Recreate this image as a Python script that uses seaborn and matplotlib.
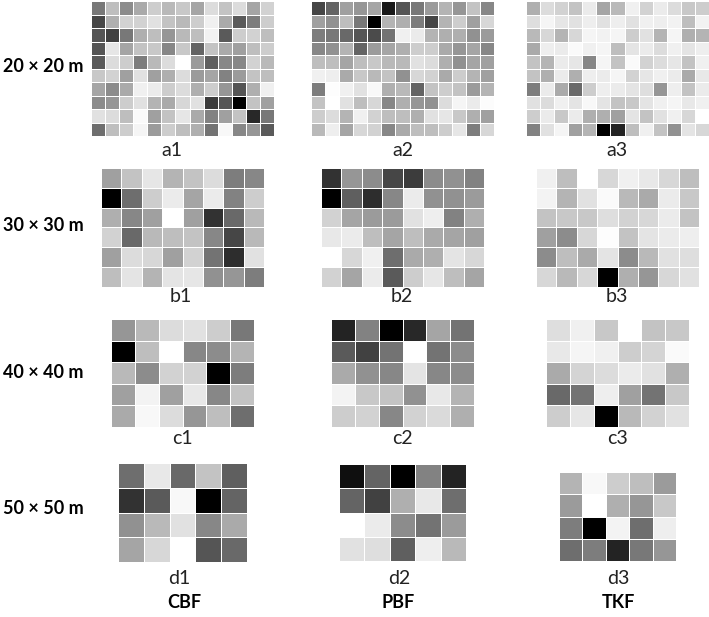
import matplotlib
matplotlib.use("Agg")
import matplotlib.pyplot as plt
import numpy as np
import seaborn as sns

# grey level of every cell, 0 black - 255 white
a1 = [[120,190,140,170,205,185,200,165,220,195,220,165,210],
      [70,175,210,210,225,195,185,205,240,170,90,125,205],
      [85,65,120,175,190,150,185,190,242,90,205,210,190],
      [85,230,165,195,200,135,200,100,195,170,160,190,205],
      [90,220,205,125,185,220,255,155,95,135,135,210,185],
      [200,210,160,225,160,175,220,155,165,130,155,195,190],
      [165,140,170,240,235,205,220,175,205,150,85,175,240],
      [140,150,205,225,180,170,215,225,60,85,0,195,160],
      [225,220,190,250,160,195,230,170,130,160,195,40,120],
      [110,190,205,245,155,205,190,175,115,248,135,150,90]]
a2 = [[70,100,160,150,165,25,85,120,155,180,150,195,135],
      [160,145,190,120,0,180,175,125,70,180,205,160,215],
      [125,120,105,85,75,115,240,235,180,175,175,145,155],
      [135,145,180,100,155,165,175,205,205,170,150,165,135],
      [190,190,165,190,200,185,185,225,220,175,145,165,160],
      [240,238,170,200,185,195,145,215,210,170,205,180,160],
      [125,253,240,225,248,175,185,100,195,205,195,155,180],
      [195,255,225,190,215,135,175,150,145,220,245,235,252],
      [205,220,180,240,210,190,190,175,225,230,200,175,160],
      [185,238,165,215,210,135,170,190,190,205,230,125,215]]
a3 = [[175,220,210,195,235,165,185,240,210,235,220,200,205],
      [222,245,230,225,238,225,238,225,240,238,242,190,242],
      [185,215,180,215,245,242,245,205,225,180,245,175,180],
      [170,238,235,250,240,245,190,228,235,220,240,228,238],
      [195,180,235,230,135,245,195,250,210,220,230,195,240],
      [195,175,235,175,238,235,245,210,230,240,235,170,232],
      [125,235,170,105,205,238,235,228,222,150,238,195,235],
      [225,220,240,228,248,228,195,200,228,240,245,232,240],
      [205,235,200,235,175,175,160,228,195,225,240,215,255],
      [130,225,245,160,180,0,35,190,240,195,145,228,215]]
b1 = [[160,195,230,180,195,220,125,135],
      [0,110,205,235,165,235,130,205],
      [175,135,160,255,160,50,105,185],
      [210,105,185,190,195,135,70,185],
      [160,220,215,160,210,115,45,225],
      [190,228,180,228,230,145,150,125]]
b2 = [[50,150,140,70,60,140,145,130],
      [0,95,45,135,235,145,145,155],
      [210,165,155,155,225,238,130,175],
      [232,235,190,165,190,170,165,160],
      [255,215,240,110,170,175,228,215],
      [210,165,235,90,205,230,190,165]]
b3 = [[240,190,255,215,240,232,215,190],
      [243,180,225,250,185,170,235,200],
      [195,200,200,222,210,215,235,195],
      [160,140,215,253,195,228,235,238],
      [140,190,170,228,140,185,225,222],
      [215,185,215,0,175,150,215,225]]
c1 = [[150,185,220,225,205,120],
      [0,190,255,135,140,180],
      [185,140,210,210,0,125],
      [160,243,160,232,135,195],
      [170,248,220,150,190,110]]
c2 = [[35,130,0,40,165,115],
      [90,65,115,255,115,140],
      [170,145,135,228,135,140],
      [243,200,195,145,232,180],
      [205,210,135,210,218,175]]
c3 = [[222,240,200,255,195,200],
      [232,245,240,205,212,250],
      [170,212,220,235,225,175],
      [105,115,238,160,115,200],
      [205,230,0,185,210,225]]
d1 = [[110,232,105,195,95],
      [50,90,248,0,100],
      [145,185,225,135,170],
      [165,215,255,85,105]]
d2 = [[15,100,0,130,35],
      [100,65,175,232,110],
      [255,235,140,115,155],
      [225,222,95,238,185]]
d3 = [[180,248,205,190,155],
      [155,255,175,150,200],
      [125,0,243,110,238],
      [110,125,35,120,150]]

row_labels = ["20 × 20 m", "30 × 30 m", "40 × 40 m", "50 × 50 m"]
col_labels = ["CBF", "PBF", "TKF"]

W, H = 709, 617
plt.rcParams['font.family'] = ['Lato', 'DejaVu Sans']
fig = plt.figure(figsize=(W / 100, H / 100), dpi=100)


def panel(data, name, left, right, top, bottom, lab_x, lab_y):
    # box given in pixels from the top left of the picture
    ax = fig.add_axes([left / W, 1 - bottom / H, (right - left) / W, (bottom - top) / H])
    sns.heatmap(np.array(data), ax=ax, cmap="gray", vmin=0, vmax=255, cbar=False,
                linewidths=0.5, linecolor="white", xticklabels=False, yticklabels=False)
    fig.text(lab_x / W, 1 - lab_y / H, name, ha="center", va="center", fontsize=14, color="#222222")


panel(a1, "a1", 91, 274, 1, 136, 172, 150)
panel(a2, "a2", 311, 494, 1, 136, 403, 150)
panel(a3, "a3", 526, 709, 1, 136, 617, 150)
panel(b1, "b1", 101, 264, 168, 287, 181, 297)
panel(b2, "b2", 321, 484, 168, 287, 402, 297)
panel(b3, "b3", 536, 699, 168, 287, 617, 297)
panel(c1, "c1", 111, 254, 319, 427, 182, 438)
panel(c2, "c2", 331, 474, 319, 427, 402, 438)
panel(c3, "c3", 546, 689, 319, 427, 617, 438)
panel(d1, "d1", 118, 247, 463, 562, 179, 578)
panel(d2, "d2", 339, 466, 464, 561, 399, 578)
panel(d3, "d3", 559, 676, 472, 561, 618, 578)

for name, y in zip(row_labels, [66, 226, 373, 508]):
    fig.text(43 / W, 1 - y / H, name, ha="center", va="center", fontsize=13, fontweight="bold")
for name, x in zip(col_labels, [184, 398, 618]):
    fig.text(x / W, 1 - 603 / H, name, ha="center", va="center", fontsize=13, fontweight="bold")

fig.savefig("out.png", dpi=100)
